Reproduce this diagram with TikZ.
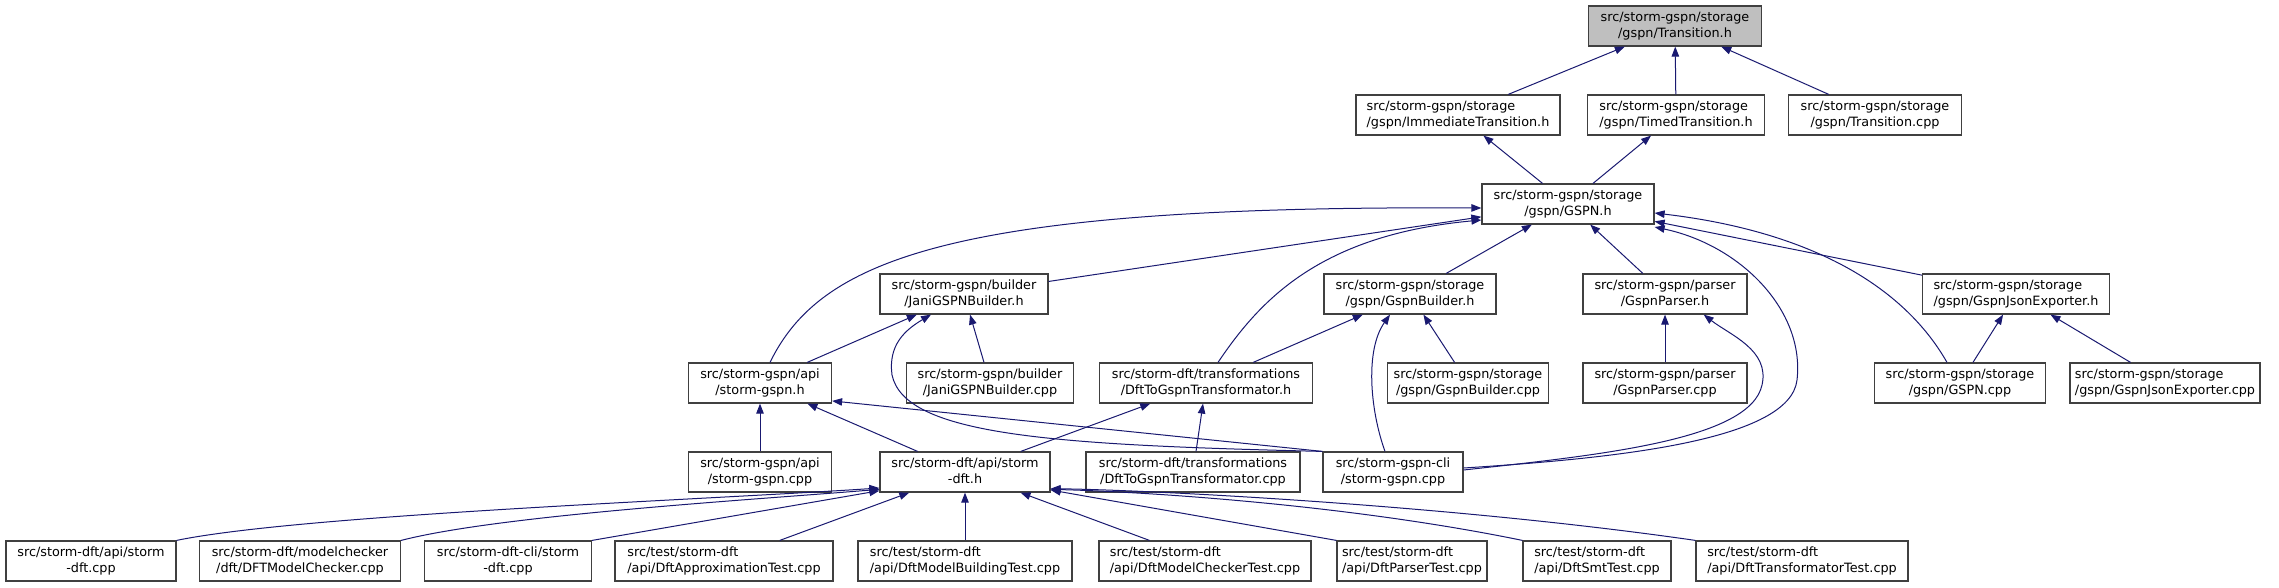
\documentclass[tikz,border=0pt]{standalone}
\usepackage{fontspec}
\setmainfont{DejaVu Sans}
\usepackage{tikz}
\usetikzlibrary{arrows.meta}
\definecolor{edgeblue}{HTML}{191970}
\definecolor{nodegray}{HTML}{BFBFBF}
% first line flush left, second line centred
\newcommand{\fname}[2]{\begin{tabular}{@{}l@{}}#1\\\multicolumn{1}{@{}c@{}}{#2}\end{tabular}}

\begin{document}
\begin{tikzpicture}[
    x=0.75pt, y=-0.75pt,
    file/.style={rectangle, draw=black!75, line width=0.9pt, fill=white, minimum height=30pt, inner xsep=2pt, inner ysep=0pt, font=\fontsize{9.6}{12}\selectfont},
    focus/.style={file, fill=nodegray},
    dep/.style={draw=edgeblue, line width=0.75pt, -{Triangle[length=7.5pt,width=5.6pt]}}
]
    \useasboundingbox (0,0) rectangle (2279,588);

    % Transition header
    \node[focus, minimum width=129.75pt] (trans) at (1675,26) {\fname{src/storm-gspn/storage}{/gspn/Transition.h}};

    % Transition kinds
    \node[file, minimum width=153pt] (immtr) at (1458,115) {\fname{src/storm-gspn/storage}{/gspn/ImmediateTransition.h}};
    \node[file, minimum width=132.75pt] (timtr) at (1676,115) {\fname{src/storm-gspn/storage}{/gspn/TimedTransition.h}};
    \node[file, minimum width=129.75pt] (transcpp) at (1875,115) {\fname{src/storm-gspn/storage}{/gspn/Transition.cpp}};

    % GSPN
    \node[file, minimum width=129pt] (gspnh) at (1568,204) {\fname{src/storm-gspn/storage}{/gspn/GSPN.h}};

    % Builders, parser, exporter
    \node[file, minimum width=126pt] (janih) at (964,294) {\fname{src/storm-gspn/builder}{/JaniGSPNBuilder.h}};
    \node[file, minimum width=129pt] (gbuildh) at (1410,294) {\fname{src/storm-gspn/storage}{/gspn/GspnBuilder.h}};
    \node[file, minimum width=123pt] (gparseh) at (1665,294) {\fname{src/storm-gspn/parser}{/GspnParser.h}};
    \node[file, minimum width=140.25pt] (gjsonh) at (2016,294) {\fname{src/storm-gspn/storage}{/gspn/GspnJsonExporter.h}};

    % Fourth row
    \node[file, minimum width=107.25pt] (apih) at (760,383) {\fname{src/storm-gspn/api}{/storm-gspn.h}};
    \node[file, minimum width=125.25pt] (janicpp) at (990,383) {\fname{src/storm-gspn/builder}{/JaniGSPNBuilder.cpp}};
    \node[file, minimum width=159.75pt] (d2gh) at (1206,383) {\fname{src/storm-dft/transformations}{/DftToGspnTransformator.h}};
    \node[file, minimum width=120.75pt] (gbuildcpp) at (1468,383) {\fname{src/storm-gspn/storage}{/gspn/GspnBuilder.cpp}};
    \node[file, minimum width=123pt] (gparsecpp) at (1665,383) {\fname{src/storm-gspn/parser}{/GspnParser.cpp}};
    \node[file, minimum width=128.25pt] (gspncpp) at (1960,383) {\fname{src/storm-gspn/storage}{/gspn/GSPN.cpp}};
    \node[file, minimum width=142.5pt] (gjsoncpp) at (2165,383) {\fname{src/storm-gspn/storage}{/gspn/GspnJsonExporter.cpp}};

    % Fifth row
    \node[file, minimum width=107.25pt] (apicpp) at (760,472) {\fname{src/storm-gspn/api}{/storm-gspn.cpp}};
    \node[file, minimum width=127.5pt] (dfth) at (965,472) {\fname{src/storm-dft/api/storm}{-dft.h}};
    \node[file, minimum width=160.5pt] (d2gcpp) at (1193,472) {\fname{src/storm-dft/transformations}{/DftToGspnTransformator.cpp}};
    \node[file, minimum width=105pt] (clicpp) at (1393,472) {\fname{src/storm-gspn-cli}{/storm-gspn.cpp}};

    % DFT sources and tests
    \node[file, minimum width=127.5pt] (dftcpp) at (91,561) {\fname{src/storm-dft/api/storm}{-dft.cpp}};
    \node[file, minimum width=150.75pt] (mccpp) at (300,561) {\fname{src/storm-dft/modelchecker}{/dft/DFTModelChecker.cpp}};
    \node[file, minimum width=125.25pt] (dfcli) at (508,561) {\fname{src/storm-dft-cli/storm}{-dft.cpp}};
    \node[file, minimum width=163.5pt] (approx) at (724,561) {\fname{src/test/storm-dft}{/api/DftApproximationTest.cpp}};
    \node[file, minimum width=160.5pt] (mbuild) at (965,561) {\fname{src/test/storm-dft}{/api/DftModelBuildingTest.cpp}};
    \node[file, minimum width=159pt] (mcheck) at (1205,561) {\fname{src/test/storm-dft}{/api/DftModelCheckerTest.cpp}};
    \node[file, minimum width=112.5pt] (parsetest) at (1412,561) {\fname{src/test/storm-dft}{/api/DftParserTest.cpp}};
    \node[file, minimum width=111pt] (smt) at (1597,561) {\fname{src/test/storm-dft}{/api/DftSmtTest.cpp}};
    \node[file, minimum width=159pt] (transtest) at (1802,561) {\fname{src/test/storm-dft}{/api/DftTransformatorTest.cpp}};

    % Edges to Transition.h
    \draw[dep] (immtr) -- (trans);
    \draw[dep] (timtr) -- (trans);
    \draw[dep] (transcpp) -- (trans);
    \draw[dep] (gspnh) -- (immtr);
    \draw[dep] (gspnh) -- (timtr);

    % Edges to GSPN.h
    \draw[dep] ([xshift=7.5pt]apih.north) .. controls (820,260) and (950,205) .. ([yshift=-3pt]gspnh.west);
    \draw[dep] (janih) -- (gspnh);
    \draw[dep] ([xshift=9pt]d2gh.north) .. controls (1260,300) and (1320,235) .. ([yshift=-12pt]gspnh.west);
    \draw[dep] (gbuildh) -- (gspnh);
    \draw[dep] (gparseh) -- (gspnh);
    \draw[dep] (gjsonh) -- (gspnh);
    \draw[dep] ([xshift=-9.75pt]gspncpp.north) .. controls (1900,280) and (1800,230) .. ([yshift=-6.75pt]gspnh.east);
    \draw[dep] ([yshift=3pt]clicpp.east) .. controls (1620,458) and (1790,440) .. (1797,380) .. controls (1805,310) and (1740,245) .. ([yshift=-17.25pt]gspnh.east);

    % Edges to the builders and parser
    \draw[dep] (apih) -- (janih);
    \draw[dep] (janicpp) -- (janih);
    \draw[dep] (clicpp.north west) .. controls (1050,445) and (905,435) .. (892,375) .. controls (888,345) and (905,330) .. ([xshift=-24.75pt]janih.south);
    \draw[dep] (d2gh) -- (gbuildh);
    \draw[dep] (gbuildcpp) -- (gbuildh);
    \draw[dep] ([xshift=-6pt]clicpp.north) .. controls (1370,410) and (1365,350) .. ([xshift=-15pt]gbuildh.south);
    \draw[dep] (gparsecpp) -- (gparseh);
    \draw[dep] ([yshift=1.5pt]clicpp.east) .. controls (1600,455) and (1750,440) .. (1762,385) .. controls (1770,350) and (1730,335) .. ([xshift=29pt]gparseh.south);
    \draw[dep] (gspncpp) -- (gjsonh);
    \draw[dep] (gjsoncpp) -- (gjsonh);

    % Edges to storm-gspn.h and the transformator
    \draw[dep] (apicpp) -- (apih);
    \draw[dep] (dfth) -- (apih);
    \draw[dep] (clicpp.north west) -- ([yshift=2pt]apih.south east);
    \draw[dep] (dfth) -- (d2gh);
    \draw[dep] (d2gcpp) -- (d2gh);

    % Edges to storm-dft.h
    \draw[dep] (dftcpp.north east) .. controls (300,515) and (700,500) .. ([yshift=-12pt]dfth.west);
    \draw[dep] (mccpp.north east) .. controls (500,515) and (750,500) .. ([yshift=-13pt]dfth.west);
    \draw[dep] (dfcli.north east) -- ([yshift=-14pt]dfth.west);
    \draw[dep] (approx) -- (dfth);
    \draw[dep] (mbuild) -- (dfth);
    \draw[dep] (mcheck) -- (dfth);
    \draw[dep] (parsetest.north west) -- ([yshift=-13.5pt]dfth.east);
    \draw[dep] (smt.north west) .. controls (1350,505) and (1150,492) .. ([yshift=-13pt]dfth.east);
    \draw[dep] (transtest.north west) .. controls (1450,505) and (1150,490) .. ([yshift=-12.5pt]dfth.east);
\end{tikzpicture}
\end{document}
